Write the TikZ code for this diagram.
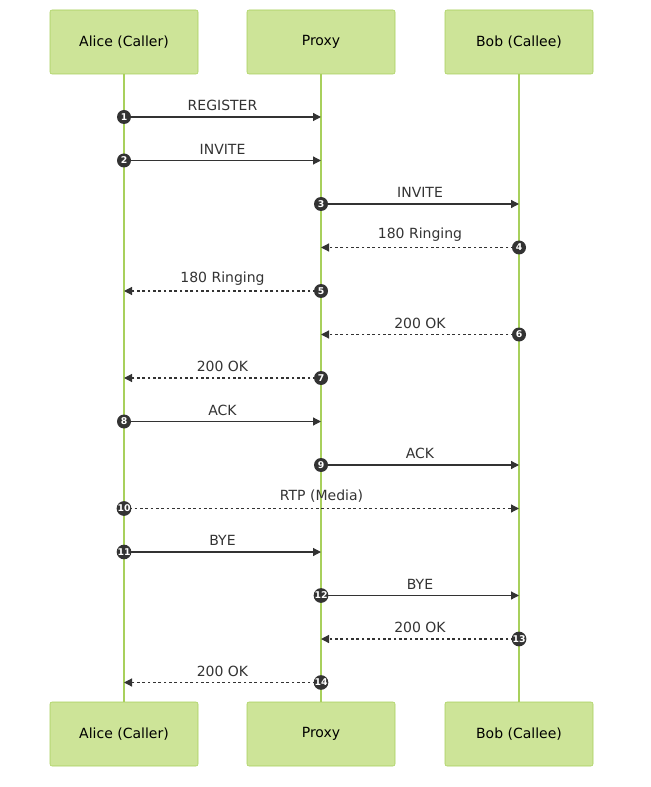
\documentclass[tikz,border=0pt]{standalone}
\usepackage{fontspec}
\setmainfont{DejaVu Sans}
\usetikzlibrary{arrows.meta, positioning, calc}
\definecolor{ActorFill}{HTML}{CDE498}
\definecolor{ActorLine}{HTML}{A8D05C}
\definecolor{MsgGray}{HTML}{333333}

\begin{document}
\begin{tikzpicture}[
            x=0.75pt, y=-0.75pt,
            actor/.style={rectangle, rounded corners=1.5pt, draw=ActorLine, fill=ActorFill,
                          minimum width=111pt, minimum height=48pt, font=\fontsize{10.5}{12}\selectfont},
            life/.style={ActorLine, line width=1.5pt},
            num/.style={circle, fill=MsgGray, text=white, inner sep=0pt, minimum size=10.5pt,
                        font=\fontsize{7}{8}\selectfont\bfseries},
            msg/.style={-{Triangle[length=6pt, width=6pt]}, MsgGray, line width=0.9pt},
            reply/.style={msg, dash pattern=on 2pt off 2pt},
            lbl/.style={font=\fontsize{10.5}{12}\selectfont, text=MsgGray}
        ]
            \useasboundingbox (0,0) rectangle (650,787);

            \node[actor] (aliceT) at (124,42) {Alice (Caller)};
            \node[actor] (proxyT) at (321,42) {Proxy};
            \node[actor] (bobT) at (519,42) {Bob (Callee)};
            \node[actor] (aliceB) at (124,734) {Alice (Caller)};
            \node[actor] (proxyB) at (321,734) {Proxy};
            \node[actor] (bobB) at (519,734) {Bob (Callee)};

            \draw[life] (aliceT) -- (aliceB);
            \draw[life] (proxyT) -- (proxyB);
            \draw[life] (bobT) -- (bobB);

            % step / from / to / style / text
            \foreach \i/\a/\b/\s/\t in {
                1/124/321/msg/REGISTER, 2/124/321/msg/INVITE, 3/321/519/msg/INVITE,
                4/519/321/reply/180 Ringing, 5/321/124/reply/180 Ringing,
                6/519/321/reply/200 OK, 7/321/124/reply/200 OK,
                8/124/321/msg/ACK, 9/321/519/msg/ACK, 10/124/519/reply/RTP (Media),
                11/124/321/msg/BYE, 12/321/519/msg/BYE,
                13/519/321/reply/200 OK, 14/321/124/reply/200 OK} {
                \pgfmathsetmacro{\y}{117+(\i-1)*43.5}
                \coordinate (t\i) at (\b,\y);
                \draw[\s] (\a,\y) coordinate (s\i) -- (t\i);
                \node[num] (n\i) at (s\i) {\i};
                \node[lbl, above=1pt] at ($(s\i)!0.5!(t\i)$) {\t};
            }
        \end{tikzpicture}
\end{document}
